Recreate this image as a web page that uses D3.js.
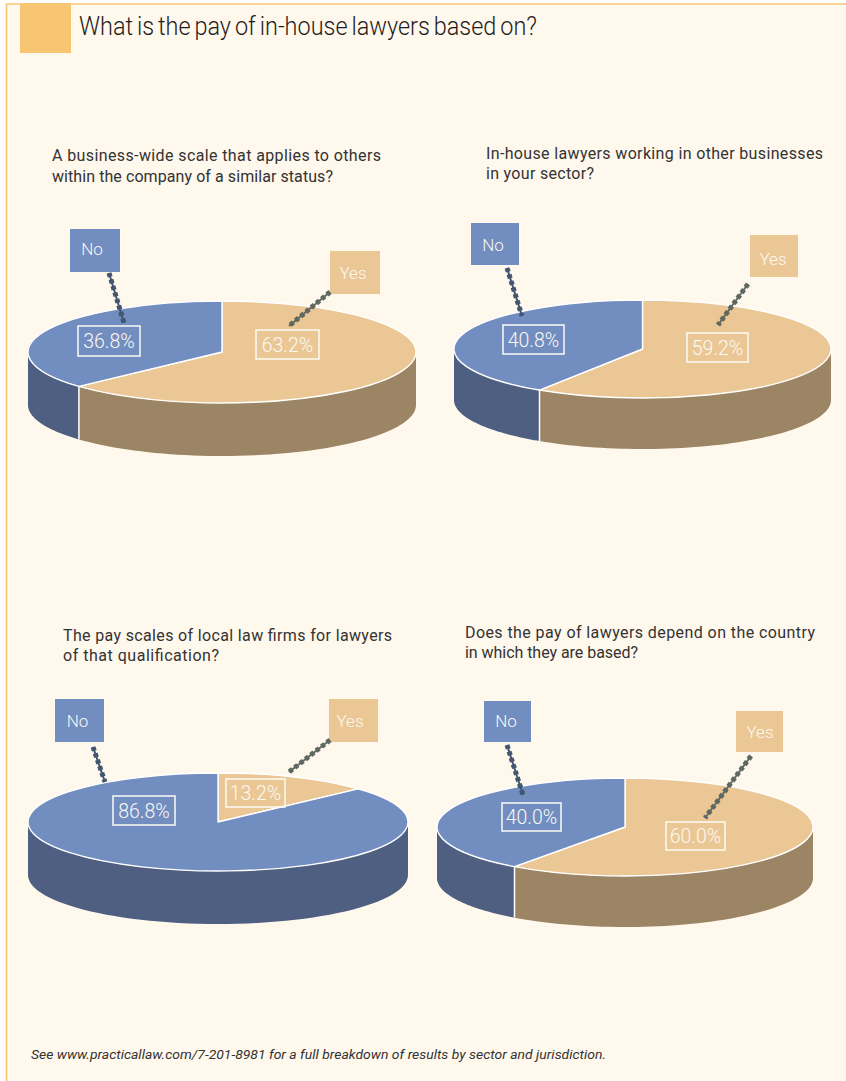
<!DOCTYPE html>
<html>
<head>
<meta charset="utf-8">
<script src="https://cdn.jsdelivr.net/npm/d3@7"></script>
<style>
  html, body { margin: 0; padding: 0; background: #fff; }
  svg { display: block; }
  text { font-family: Roboto, "Liberation Sans", sans-serif; }
</style>
</head>
<body>
<script>
// Survey answers, in percent
const answers = ["Yes", "No"];
const businessWideScale = [63.2, 36.8];
const otherBusinesses = [59.2, 40.8];
const localLawFirms = [13.2, 86.8];
const countryOfWork = [60.0, 40.0];

const titleText = "What is the pay of in-house lawyers based on?";
const footnoteText = "See www.practicallaw.com/7-201-8981 for a full breakdown of results by sector and jurisdiction.";

const questions = [
  ["A business-wide scale that applies to others", "within the company of a similar status?"],
  ["In-house lawyers working in other businesses", "in your sector?"],
  ["The pay scales of local law firms for lawyers", "of that qualification?"],
  ["Does the pay of lawyers depend on the country", "in which they are based?"]
];

// Placement of each panel: pie ellipse, question text, tags, value boxes, leaders
const panels = [
  { values: businessWideScale, cx: 222, cy: 352, rx: 194, ry: 51, depth: 53,
    q: { x: 52, y: [161, 182], w: [329, 281] },
    tags: { Yes: [330, 251, 50, 43, 353, 279], No: [70, 229, 50, 43, 92, 255] },
    boxes: { Yes: [256, 330, 63, 29], No: [78, 326, 62, 30] },
    leaders: { Yes: [330, 292, 289, 326], No: [109, 273, 124, 323] } },
  { values: otherBusinesses, cx: 642.5, cy: 349, rx: 188.5, ry: 49, depth: 51,
    q: { x: 486, y: [159, 179], w: [337, 108] },
    tags: { Yes: [750, 235, 48, 42, 773, 265], No: [471, 223, 48, 42, 493, 251] },
    boxes: { Yes: [687, 333, 61, 29], No: [503, 325, 61, 29] },
    leaders: { Yes: [748, 284, 718, 325], No: [507, 268, 522, 316] } },
  { values: localLawFirms, cx: 218, cy: 822, rx: 190, ry: 49, depth: 53,
    q: { x: 63, y: [641, 661], w: [329, 156] },
    tags: { Yes: [329, 699, 49, 43, 350, 727], No: [55, 699, 49, 43, 77.5, 727] },
    boxes: { Yes: [226, 779, 59, 28], No: [113, 796, 62, 29] },
    leaders: { Yes: [330, 740, 289, 772], No: [93, 747, 105, 782] } },
  { values: countryOfWork, cx: 625, cy: 827, rx: 188, ry: 49, depth: 51,
    q: { x: 465, y: [638, 658], w: [350, 173] },
    tags: { Yes: [736, 711, 47, 41, 760, 738], No: [484, 701, 47, 41, 506, 727] },
    boxes: { Yes: [666, 822, 59, 28], No: [502, 803, 59, 28] },
    leaders: { Yes: [751, 756, 705, 818], No: [507, 745, 523, 795] } }
];

const topColor = d3.scaleOrdinal(answers, ["#ebc795", "#728dbf"]);
const sideColor = d3.scaleOrdinal(answers, ["#9c8564", "#4e5f82"]);
const leaderColor = d3.scaleOrdinal(answers, ["#5e6860", "#43566f"]);
const labelColor = "#fbf9f3";
const paper = "#fff8ed";
const rule = "#f7c675";

const svg = d3.select("body").append("svg").attr("width", 846).attr("height", 1081);

// Page panel with its rule along the top and left edges
svg.append("rect").attr("x", 6).attr("y", 4).attr("width", 840).attr("height", 1077).attr("fill", paper);
svg.append("path").attr("d", "M846,4H6.5V1081").attr("fill", "none").attr("stroke", rule).attr("stroke-width", 1.6);
svg.append("rect").attr("x", 20).attr("y", 3).attr("width", 51).attr("height", 50).attr("fill", "#f8c572");

svg.append("text").attr("x", 79).attr("y", 35).attr("font-size", 26).attr("font-weight", 300)
  .attr("word-spacing", -2).attr("fill", "#1f1d1c")
  .attr("textLength", 458).attr("lengthAdjust", "spacingAndGlyphs").text(titleText);

svg.append("text").attr("x", 31).attr("y", 1059).attr("font-size", 12.5).attr("font-style", "italic")
  .attr("fill", "#333").attr("textLength", 575).attr("lengthAdjust", "spacingAndGlyphs").text(footnoteText);

const pie = d3.pie().sort(null).value(d => d);
const unitArc = d3.arc().innerRadius(0).outerRadius(100);

panels.forEach((p, i) => {
  const g = svg.append("g");

  questions[i].forEach((line, k) => {
    g.append("text").attr("x", p.q.x).attr("y", p.q.y[k]).attr("font-size", 16).attr("fill", "#333")
      .attr("textLength", p.q.w[k]).attr("lengthAdjust", "spacing").text(line);
  });

  const slices = pie(p.values).map((s, k) => ({ ...s, answer: answers[k] }));

  // Ellipse coordinates: unit vectors mapped onto the tilted disc
  const x = d3.scaleLinear().domain([-1, 1]).range([p.cx - p.rx, p.cx + p.rx]);
  const y = d3.scaleLinear().domain([-1, 1]).range([p.cy - p.ry, p.cy + p.ry]);
  const rimX = a => x(Math.sin(a));
  const rimY = a => y(-Math.cos(a));

  // Front wall: only the part of each slice facing the viewer (90 to 270 degrees)
  slices.forEach(s => {
    const from = Math.max(s.startAngle, Math.PI / 2);
    const to = Math.min(s.endAngle, 3 * Math.PI / 2);
    if (to <= from) return;
    const steps = d3.range(0, 61).map(t => from + (to - from) * t / 60);
    const upper = steps.map(a => [rimX(a), rimY(a)]);
    const lower = steps.slice().reverse().map(a => [rimX(a), rimY(a) + p.depth]);
    g.append("path").attr("d", d3.line()(upper.concat(lower)) + "Z").attr("fill", sideColor(s.answer));
  });

  // White seam where two slices meet on the front wall
  slices.forEach(s => {
    const a = s.endAngle;
    if (a > Math.PI / 2 && a < 3 * Math.PI / 2) {
      g.append("line").attr("x1", rimX(a)).attr("x2", rimX(a))
        .attr("y1", rimY(a)).attr("y2", rimY(a) + p.depth)
        .attr("stroke", "#fff").attr("stroke-width", 1.5);
    }
  });

  // Top face
  g.append("g").attr("transform", `translate(${p.cx},${p.cy}) scale(${p.rx / 100},${p.ry / 100})`)
    .selectAll("path").data(slices).join("path")
    .attr("d", unitArc)
    .attr("fill", s => topColor(s.answer))
    .attr("stroke", "#fff").attr("stroke-width", 1.4)
    .attr("stroke-linejoin", "round")
    .attr("vector-effect", "non-scaling-stroke");

  slices.forEach(s => {
    const tag = p.tags[s.answer];
    const box = p.boxes[s.answer];
    const lead = p.leaders[s.answer];

    // Answer tag
    g.append("rect").attr("x", tag[0]).attr("y", tag[1]).attr("width", tag[2]).attr("height", tag[3])
      .attr("fill", topColor(s.answer));
    g.append("text").attr("x", tag[4]).attr("y", tag[5]).attr("text-anchor", "middle")
      .attr("font-size", 17).attr("font-weight", 300).attr("fill", labelColor).text(s.answer);

    // Dotted leader from tag to value box
    g.append("line").attr("x1", lead[0]).attr("y1", lead[1]).attr("x2", lead[2]).attr("y2", lead[3])
      .attr("stroke", leaderColor(s.answer)).attr("stroke-width", 2);
    g.append("line").attr("x1", lead[0]).attr("y1", lead[1]).attr("x2", lead[2]).attr("y2", lead[3])
      .attr("stroke", leaderColor(s.answer)).attr("stroke-width", 5).attr("stroke-dasharray", "4 2.8");

    // Value box
    g.append("rect").attr("x", box[0]).attr("y", box[1]).attr("width", box[2]).attr("height", box[3])
      .attr("fill", "none").attr("stroke", "#fdfbf5").attr("stroke-width", 1.5);
    g.append("text").attr("x", box[0] + box[2] / 2).attr("y", box[1] + box[3] / 2 + 7)
      .attr("text-anchor", "middle").attr("font-size", 19.5).attr("font-weight", 300)
      .attr("fill", labelColor).text(d3.format(".1f")(s.value) + "%");
  });
});
</script>
</body>
</html>
